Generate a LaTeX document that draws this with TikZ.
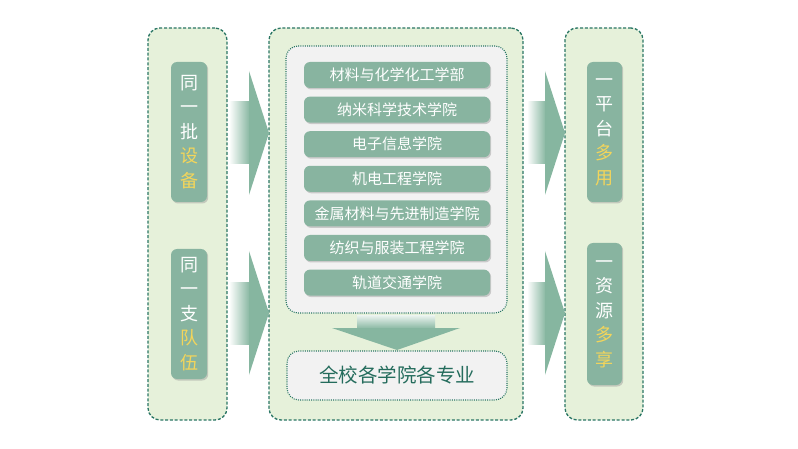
\documentclass[tikz,border=0pt]{standalone}
\usepackage{fontspec}
\newfontfamily\cjk{Noto Sans CJK SC}
\usetikzlibrary{shadows}
\definecolor{panelfill}{HTML}{E6F1DA}
\definecolor{paneledge}{HTML}{2A7664}
\definecolor{boxgreen}{HTML}{88B4A0}
\definecolor{arrowgreen}{HTML}{86B6A0}
\definecolor{hilite}{HTML}{F3D55B}
\definecolor{titleteal}{HTML}{246C5C}
\definecolor{innergray}{HTML}{F2F2F2}
\newcommand{\hl}[1]{\textcolor{hilite}{#1}}

\begin{document}
\begin{tikzpicture}[x=1pt, y=-1pt, font=\cjk,
    panel/.style={draw=paneledge, fill=panelfill, line width=1.3pt,
      dash pattern=on 3pt off 1.8pt, rounded corners=12pt},
    vbox/.style={fill=boxgreen, rounded corners=6pt, minimum width=36pt,
      text=white, align=center, inner sep=0pt,
      font=\cjk\fontsize{18}{24.5}\selectfont,
      drop shadow={shadow xshift=1.2pt, shadow yshift=-1.5pt, fill=black!40, opacity=.45}},
    dept/.style={fill=boxgreen, rounded corners=6pt, minimum width=186pt,
      minimum height=26pt, text=white, inner sep=0pt,
      font=\cjk\fontsize{15}{16}\selectfont,
      drop shadow={shadow xshift=1.2pt, shadow yshift=-1.5pt, fill=black!40, opacity=.45}}]
    \useasboundingbox (0,0) rectangle (798,449);
    % panels
    \node[panel, minimum width=79pt, minimum height=392pt] (L) at (187.5,224) {};
    \node[panel, minimum width=254pt, minimum height=392pt] (M) at (396,224) {};
    \node[panel, minimum width=78pt, minimum height=392pt] (R) at (604,224) {};
    \node[draw=paneledge, fill=innergray, line width=1.1pt, dash pattern=on 1pt off 1.2pt,
      rounded corners=12pt, minimum width=221pt, minimum height=267pt] (G) at (396.5,179.5) {};
    % vertical boxes
    \node[vbox, minimum height=140pt] (l1) at (189,132) {同\\一\\批\\\hl{设}\\\hl{备}};
    \node[vbox, minimum height=130pt] (l2) at (189,314) {同\\一\\支\\\hl{队}\\\hl{伍}};
    \node[vbox, minimum width=35pt, minimum height=140pt] (r1) at (604.5,132) {一\\平\\台\\\hl{多}\\\hl{用}};
    \node[vbox, minimum width=35pt, minimum height=142pt] (r2) at (604.5,314) {一\\资\\源\\\hl{多}\\\hl{享}};
    % colleges
    \foreach \name [count=\i from 0] in {材料与化学化工学部, 纳米科学技术学院, 电子信息学院,
        机电工程学院, 金属材料与先进制造学院, 纺织与服装工程学院, 轨道交通学院}
      \node[dept] (d\i) at (397,75+34.6*\i) {\name};
    \node[draw=paneledge, fill=innergray, line width=1.1pt, dash pattern=on 1pt off 1.2pt,
      rounded corners=12pt, minimum width=220pt, minimum height=49pt,
      text=titleteal, font=\cjk\fontsize{19.5}{22}\selectfont] (B) at (397,375.5) {全校各学院各专业};
    % arrows
    \foreach \xa/\xb/\xc in {229/250/269, 527/546/565}
      \foreach \ym in {133, 313} {
        \shade[left color=white, right color=arrowgreen] (\xa,\ym-31) rectangle (\xb,\ym+31);
        \fill[arrowgreen] (\xb-1,\ym-62) -- (\xc,\ym) -- (\xb-1,\ym+62) -- cycle;
      }
    \shade[top color=arrowgreen!15, bottom color=arrowgreen] (357,315) rectangle (435,329);
    \fill[arrowgreen] (332,328) -- (460,328) -- (397,350) -- cycle;
\end{tikzpicture}
\end{document}
